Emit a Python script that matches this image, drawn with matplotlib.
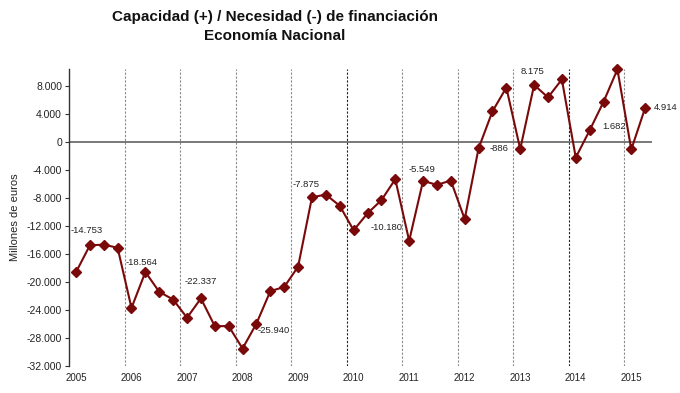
import matplotlib
matplotlib.use("Agg")
import matplotlib.pyplot as plt
from matplotlib import font_manager
import numpy as np

years = list(range(2005, 2016))
quarter_pos = [y + (q - 0.5) / 4 for y in range(2005, 2016) for q in range(1, 5)][:42]
values = [
    -18600, -14753, -14650, -15100,   # 2005
    -23700, -18564, -21400, -22500,   # 2006
    -25100, -22337, -26300, -26300,   # 2007
    -29500, -25940, -21300, -20700,   # 2008
    -17800, -7875, -7500, -9100,      # 2009
    -12600, -10180, -8300, -5300,     # 2010
    -14100, -5549, -6100, -5500,      # 2011
    -11000, -886, 4400, 7800,         # 2012
    -1000, 8175, 6400, 8960,          # 2013
    -2200, 1682, 5760, 10400,         # 2014
    -1050, 4914,                      # 2015
]
annot_idx = [1, 5, 9, 13, 17, 21, 25, 29, 33, 37, 41]
annot_txt = ["-14.753", "-18.564", "-22.337", "-25.940", "-7.875", "-10.180",
             "-5.549", "-886", "8.175", "1.682", "4.914"]
annot_off = [(-14, 11), (-3, 7), (0, 12), (1, -5), (-4, 9), (2, -10),
             (-1, 8), (8, 0), (-1, 10), (9, 3), (6, 0)]
annot_ha = ["left", "center", "center", "left", "center", "left",
            "center", "left", "center", "left", "left"]
yticks = list(range(-32000, 8001, 4000))
ytick_labels = [f"{v:,}".replace(",", ".") for v in yticks]

names = {f.name for f in font_manager.fontManager.ttflist}
narrow = "Liberation Sans Narrow" if "Liberation Sans Narrow" in names else "Liberation Sans"
plt.rcParams["font.family"] = [narrow, "DejaVu Sans"]

fig = plt.figure(figsize=(6.8, 3.93), dpi=100)
ax = fig.add_axes([0.1015, 0.0687, 0.8575, 0.7553])

red = "#7a0a0a"
ax.set_xlim(2005, 2015.5)
ax.set_ylim(-32000, 10430)

for y in years[1:]:
    c = "#222222" if y in (2010, 2014) else "#8a8a8a"
    ax.axvline(y, color=c, lw=0.8, ls=(0, (2, 1.5)), zorder=1)
ax.axhline(0, color="#555555", lw=1.1, zorder=2)

ax.plot(quarter_pos, values, color=red, lw=1.5, marker="D", ms=5.5,
        mfc=red, mec=red, zorder=3, clip_on=False)

for i, t, off, ha in zip(annot_idx, annot_txt, annot_off, annot_ha):
    ax.annotate(t, (quarter_pos[i], values[i]), xytext=off, textcoords="offset points",
                ha=ha, va="center", fontsize=6.8, color="#222222")

for s in ("top", "right", "bottom"):
    ax.spines[s].set_visible(False)
ax.spines["left"].set_color("#333333")
ax.spines["left"].set_linewidth(1.0)

ax.set_yticks(yticks)
ax.set_yticklabels(ytick_labels, fontsize=7.5, color="#222222")
ax.tick_params(axis="y", length=3, width=0.8, color="#333333", pad=2)
ax.set_xticks([y + 0.125 for y in years])
ax.set_xticklabels([str(y) for y in years], fontsize=7, color="#222222")
ax.tick_params(axis="x", length=0, pad=5)

ax.set_ylabel("Millones de euros", fontsize=8, color="#222222", labelpad=5)

fig.text(0.404, 0.958, "Capacidad (+) / Necesidad (-) de financiación", ha="center",
         va="center", fontsize=11, fontweight="bold", color="#111111")
fig.text(0.404, 0.908, "Economía Nacional", ha="center", va="center",
         fontsize=11, fontweight="bold", color="#111111")

fig.savefig("out.png", dpi=100)
